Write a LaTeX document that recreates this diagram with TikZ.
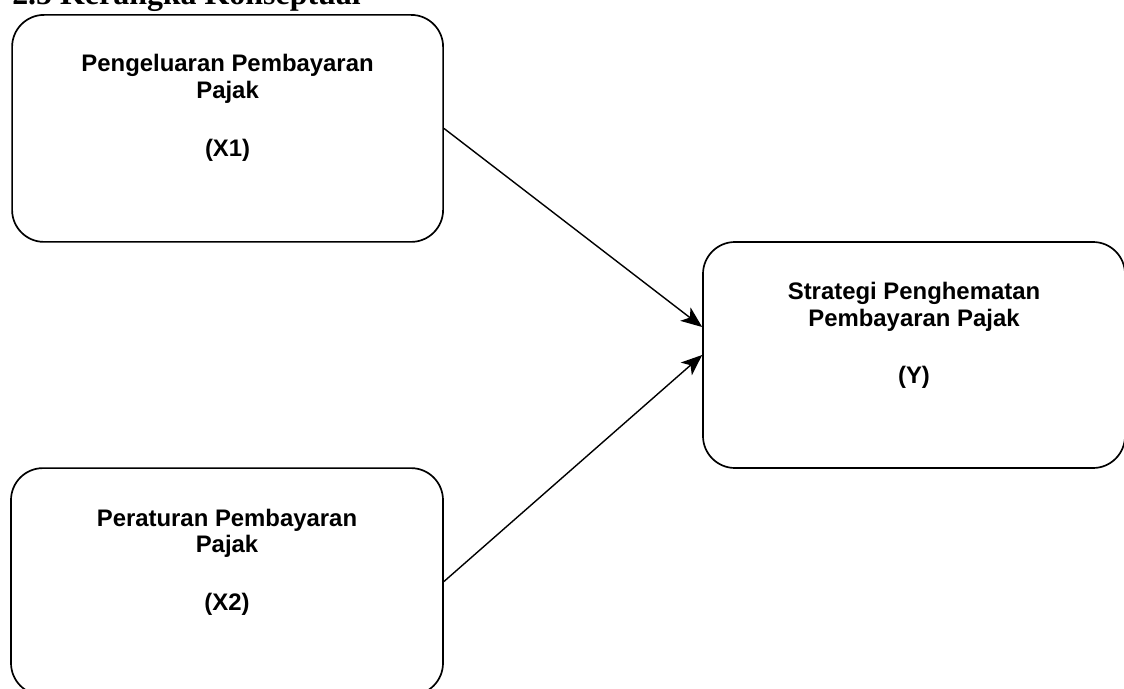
\documentclass[tikz,border=0pt]{standalone}
\usepackage{fontspec}
\setmainfont{Liberation Sans}
\newfontfamily\judulfont{Liberation Serif}
\usepackage{tikz}
\usetikzlibrary{shapes,positioning,calc}
\usetikzlibrary{arrows.meta}
\tikzstyle{variabel} = [rectangle, 
rounded corners=0.8cm, minimum width=10.8cm, minimum height=5.675cm, draw=black, line width=1.2pt]
\tikzstyle{teks} = [align=center, inner sep=0pt, font=\bfseries\fontsize{17}{19}\selectfont]
\tikzstyle{panah} = [line width=1pt,-{Stealth[length=15pt,width=12pt,inset=4pt]}]

\begin{document}
\begin{tikzpicture}
				\useasboundingbox (0,0) rectangle (28.1,-17.225);
				\node[anchor=base west, inner sep=0pt, font=\judulfont\bfseries\fontsize{22.7}{26}\selectfont] (judul) at (0.3,-0.12) {2.5 Kerangka Konseptual};
				\node (x1) at (5.69,-3.21) [variabel, minimum width=10.775cm] {};
				\node (x2) at (5.675,-14.54) [variabel] {};
				\node (y) at (22.85,-8.875) [variabel, minimum width=10.55cm, minimum height=5.65cm] {};
				\node[teks, anchor=north] (x1t) at ([yshift=-1cm]x1.north) {Pengeluaran Pembayaran\\Pajak\\[22pt](X1)};
				\node[teks, anchor=north] (x2t) at ([yshift=-1.03cm]x2.north) {Peraturan Pembayaran\\Pajak\\[22pt](X2)};
				\node[teks, anchor=north] (yt) at ([yshift=-1.02cm]y.north) {Strategi Penghematan\\Pembayaran Pajak\\[22pt](Y)};
				\draw[panah] (x1.east) -- ([yshift=0.7cm]y.west);
				\draw[panah] (x2.east) -- (y.west);
				\end{tikzpicture}
\end{document}
